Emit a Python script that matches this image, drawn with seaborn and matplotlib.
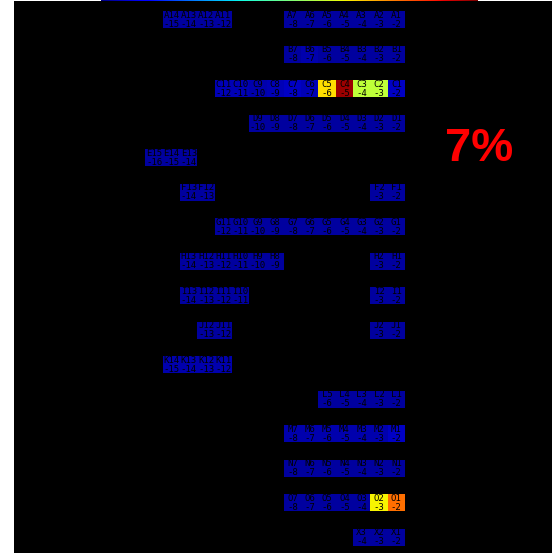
import numpy as np
import pandas as pd
import matplotlib
matplotlib.use("Agg")
import matplotlib.pyplot as plt
import seaborn as sns

# Буквы строк и номера столбцов (слева направо: 15 ... 1)
letters = ["A", "B", "C", "D", "E", "F", "G", "H", "I", "J", "K", "L", "M", "N", "O", "X"]
col_nums = [15, 14, 13, 12, 11, 10, 9, 8, 7, 6, 5, 4, 3, 2, 1]
offsets = [-16, -15, -14, -13, -12, -11, -10, -9, -8, -7, -6, -5, -4, -3, -2]

N = None
row_A = [N, .03, .03, .03, .03, N, N, N, .03, .03, .03, .03, .03, .03, .03]
row_B = [N, N, N, N, N, N, N, N, .03, .04, .03, .03, .03, .03, .03]
row_C = [N, N, N, N, .05, .05, .04, .05, .06, .05, .675, .975, .58, .58, .06]
row_D = [N, N, N, N, N, N, .03, .03, .03, .03, .03, .03, .03, .03, .03]
row_E = [.03, .03, .03, N, N, N, N, N, N, N, N, N, N, N, N]
row_F = [N, N, .03, .03, N, N, N, N, N, N, N, N, N, .03, .03]
row_G = [N, N, N, N, .03, .03, .03, .03, .03, .03, .03, .03, .03, .03, .03]
row_H = [N, N, .03, .03, .03, .03, .03, .03, N, N, N, N, N, .03, .03]
row_I = [N, N, .03, .03, .03, .03, N, N, N, N, N, N, N, .03, .03]
row_J = [N, N, N, .03, .03, N, N, N, N, N, N, N, N, .03, .03]
row_K = [N, .04, .04, .04, .04, N, N, N, N, N, N, N, N, N, N]
row_L = [N, N, N, N, N, N, N, N, N, N, .03, .03, .03, .03, .03]
row_M = [N, N, N, N, N, N, N, N, .04, .04, .04, .04, .04, .04, .06]
row_N = [N, N, N, N, N, N, N, N, .03, .03, .03, .03, .03, .03, .03]
row_O = [N, N, N, N, N, N, N, N, .03, .03, .03, .03, .03, .65, .79]
row_X = [N, N, N, N, N, N, N, N, N, N, N, N, .03, .03, .03]

rows = [row_A, row_B, row_C, row_D, row_E, row_F, row_G, row_H,
        row_I, row_J, row_K, row_L, row_M, row_N, row_O, row_X]

big_label = "7%"


def build_grid():
    """Строит сетку со вставленными пустыми строками между буквами."""
    values = []
    labels = []
    for letter, row in zip(letters, rows):
        values.append([np.nan if v is None else v for v in row])
        labels.append(["" if v is None else f"{letter}{k}\n{o}"
                       for v, k, o in zip(row, col_nums, offsets)])
        values.append([np.nan] * len(col_nums))
        labels.append([""] * len(col_nums))
    return pd.DataFrame(values), np.array(labels)


def main():
    data, labels = build_grid()

    fig = plt.figure(figsize=(5.52, 5.53), dpi=100, facecolor="white")
    ax = fig.add_axes([14 / 552, 0, 1 - 14 / 552, 1 - 1 / 553])
    ax.set_facecolor("black")

    sns.heatmap(data, ax=ax, cmap="jet", vmin=0, vmax=1, cbar=False,
                annot=labels, fmt="", linewidths=0,
                annot_kws={"color": "black", "fontsize": 6.5,
                           "family": "DejaVu Sans Mono", "linespacing": 1.0})

    # Положение сетки в пикселях: ячейка ~17.3 px
    ax.set_xlim(-7.60, 23.50)
    ax.set_ylim(31.42, -0.58)
    ax.set_xticks([])
    ax.set_yticks([])
    for s in ax.spines.values():
        s.set_visible(False)

    # Полоска цветовой шкалы вверху
    cax = fig.add_axes([101 / 552, 1 - 1.5 / 553, 376 / 552, 1.5 / 553])
    cax.imshow(np.linspace(0, 1, 256)[None, :], aspect="auto", cmap="jet")
    cax.axis("off")

    fig.text(479 / 552, 1 - 149 / 553, big_label, color="red", fontsize=34,
             fontweight="bold", family="Liberation Sans", ha="center", va="center")

    fig.savefig("out.png", dpi=100, facecolor="white")
    plt.close(fig)


if __name__ == "__main__":
    main()
